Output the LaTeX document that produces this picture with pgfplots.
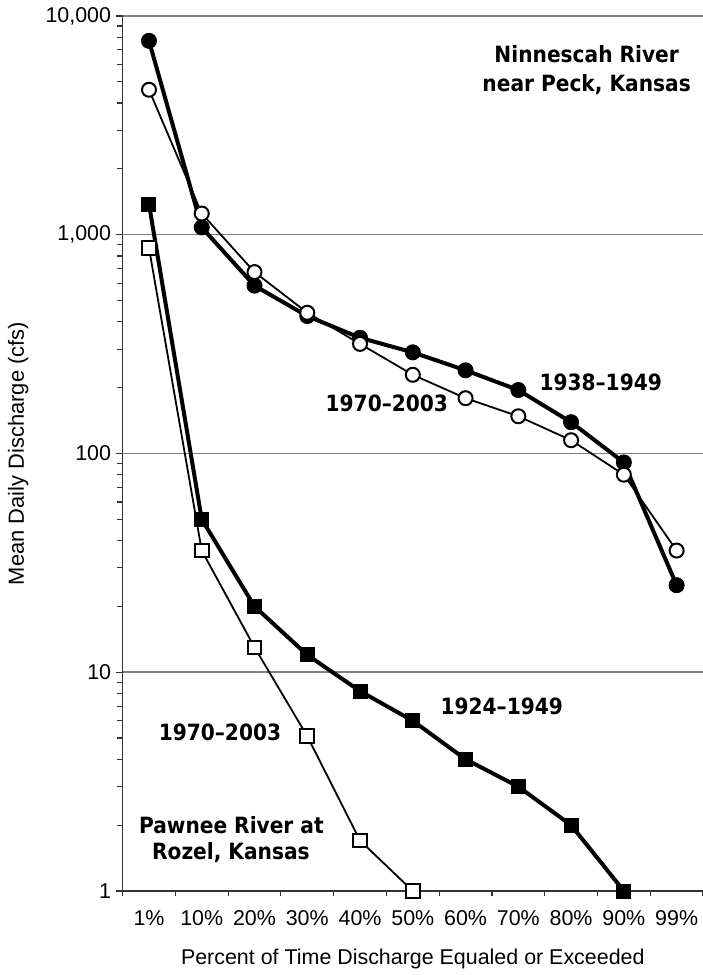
\documentclass[border=0pt]{standalone}
\usepackage{fontspec}
\setmainfont{Liberation Sans}
\newfontfamily\annot[Ligatures=TeX]{DejaVu Sans Condensed}
\usepackage{pgfplots}
\usepackage{pgfplotstable}
\pgfplotsset{compat=1.18}

\pgfplotstableread{
x old new
0 7700 4600
1 1080 1250
2 585 675
3 425 440
4 338 317
5 290 229
6 240 179
7 195 148
8 139 115
9 91 80
10 25 36
}\ninn

\pgfplotstableread{
x val
0 1380
1 50
2 20
3 12
4 8.2
5 6
6 4
7 3
8 2
9 1
}\pawold

\pgfplotstableread{
x val
0 870
1 36
2 13
3 5.1
4 1.7
5 1
}\pawnew

\begin{document}
\begin{tikzpicture}
\path[use as bounding box] (-122.6bp,-84bp) rectangle (580.4bp,891bp);
\begin{axis}[
  scale only axis,
  width=580.4bp, height=875bp,
  xmin=-0.5, xmax=10.5,
  ymode=log, ymin=1, ymax=10000,
  axis x line*=bottom, axis y line*=left,
  axis line style={draw=black!80, line width=1.5bp},
  xtick={0,...,10},
  xticklabels={1\%,10\%,20\%,30\%,40\%,50\%,60\%,70\%,80\%,90\%,99\%},
  major x tick style={draw=none},
  minor xtick={-0.5,0.5,...,10.5},
  ytick={1,10,100,1000,10000},
  yticklabels={1,10,100,{1,000},{10,000}},
  tick align=outside,
  major tick length=7bp, minor tick length=5.5bp,
  tick style={draw=black!80, line width=1.2bp},
  ymajorgrids,
  grid style={draw=black!50, line width=1.5bp},
  xticklabel style={font=\fontsize{21.5}{24}\selectfont, yshift=-9bp},
  yticklabel style={font=\fontsize{21.5}{24}\selectfont, xshift=-1bp},
  xlabel={Percent of Time Discharge Equaled or Exceeded},
  ylabel={Mean Daily Discharge (cfs)},
  xlabel style={font=\fontsize{21.5}{24}\selectfont, at={(axis description cs:0.5,-0.0775)}, anchor=center},
  ylabel style={font=\fontsize{22}{24}\selectfont, at={(axis description cs:-0.180,0.5)}, anchor=center},
  clip=false,
]
\addplot[black, line width=4bp, mark=*, mark size=7.5bp, mark options={fill=black, line width=1bp}] table[x=x, y=old] {\ninn};
\addplot[black, line width=1.8bp, mark=*, mark size=7bp, mark options={fill=white, draw=black, line width=2bp}] table[x=x, y=new] {\ninn};
\addplot[black, line width=4bp, mark=square*, mark size=7bp, mark options={fill=black, line width=1bp}] table[x=x, y=val] {\pawold};
\addplot[black, line width=1.8bp, mark=square*, mark size=6.8bp, mark options={fill=white, draw=black, line width=2bp}] table[x=x, y=val] {\pawnew};

\node[anchor=base, font=\annot\bfseries\fontsize{22.5}{26}\selectfont] at (axis cs:8.295,6098) {Ninnescah River};
\node[anchor=base, font=\annot\bfseries\fontsize{22.5}{26}\selectfont] at (axis cs:8.295,4495) {near Peck, Kansas};
\node[anchor=base, font=\annot\bfseries\fontsize{22.5}{26}\selectfont] at (axis cs:8.561,195) {1938–1949};
\node[anchor=base, font=\annot\bfseries\fontsize{22.5}{26}\selectfont] at (axis cs:4.508,154.8) {1970–2003};
\node[anchor=base, font=\annot\bfseries\fontsize{22.5}{26}\selectfont] at (axis cs:6.686,6.377) {1924–1949};
\node[anchor=base, font=\annot\bfseries\fontsize{22.5}{26}\selectfont] at (axis cs:1.345,4.85) {1970–2003};
\node[anchor=base, font=\annot\bfseries\fontsize{22.5}{26}\selectfont] at (axis cs:1.5625,1.841) {Pawnee River at};
\node[anchor=base, font=\annot\bfseries\fontsize{22.5}{26}\selectfont] at (axis cs:1.553,1.386) {Rozel, Kansas};
\end{axis}
\end{tikzpicture}
\end{document}
